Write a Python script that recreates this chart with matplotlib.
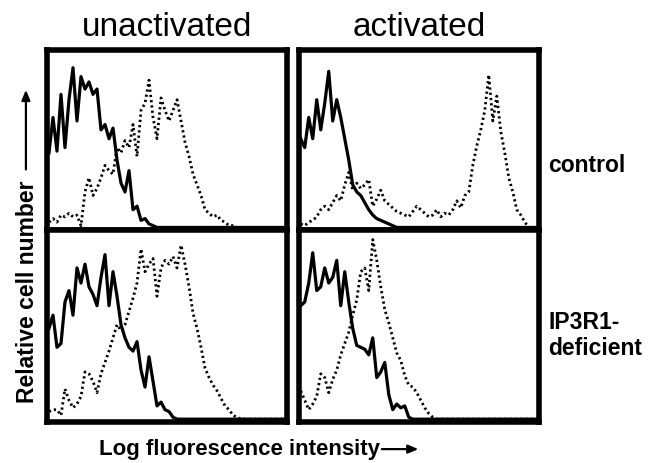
import matplotlib
matplotlib.use("Agg")
import matplotlib.pyplot as plt
import numpy as np

plt.rcParams["font.family"] = ["Liberation Sans", "DejaVu Sans"]

# histogram heights, fraction of panel height, 60 bins across log intensity
n_bins = 60

unact_ctrl_solid = [0.42, 0.62, 0.43, 0.75, 0.45, 0.72, 0.90, 0.60, 0.85, 0.78,
                    0.82, 0.75, 0.78, 0.55, 0.58, 0.50, 0.56, 0.38, 0.25, 0.20,
                    0.32, 0.10, 0.12, 0.04, 0.05, 0.02, 0.01]
unact_ctrl_dot = [0.03, 0.05, 0.03, 0.07, 0.06, 0.08, 0.06, 0.07, 0.01, 0.20,
                  0.28, 0.18, 0.22, 0.28, 0.35, 0.32, 0.30, 0.45, 0.42, 0.49,
                  0.45, 0.58, 0.40, 0.66, 0.70, 0.83, 0.62, 0.50, 0.73, 0.66,
                  0.60, 0.66, 0.72, 0.60, 0.48, 0.40, 0.30, 0.24, 0.18, 0.10,
                  0.08, 0.06, 0.07, 0.04, 0.03, 0.01, 0.01]

act_ctrl_solid = [0.50, 0.45, 0.62, 0.50, 0.72, 0.55, 0.70, 0.88, 0.60, 0.72,
                  0.62, 0.50, 0.38, 0.24, 0.20, 0.18, 0.14, 0.10, 0.07, 0.05,
                  0.04, 0.03, 0.02, 0.01]
act_ctrl_dot = [0.02, 0.01, 0.03, 0.04, 0.06, 0.10, 0.12, 0.10, 0.14, 0.18,
                0.15, 0.24, 0.31, 0.21, 0.25, 0.22, 0.24, 0.27, 0.12, 0.16,
                0.21, 0.15, 0.13, 0.11, 0.09, 0.08, 0.07, 0.06, 0.09, 0.12,
                0.10, 0.08, 0.06, 0.07, 0.10, 0.06, 0.08, 0.07, 0.10, 0.15,
                0.11, 0.18, 0.20, 0.35, 0.46, 0.55, 0.66, 0.86, 0.60, 0.74,
                0.54, 0.42, 0.28, 0.20, 0.10, 0.07, 0.03]

unact_ko_solid = [0.48, 0.55, 0.38, 0.40, 0.62, 0.68, 0.55, 0.80, 0.72, 0.82,
                  0.70, 0.66, 0.60, 0.75, 0.87, 0.60, 0.78, 0.65, 0.50, 0.43,
                  0.38, 0.36, 0.41, 0.26, 0.17, 0.33, 0.20, 0.07, 0.09, 0.05,
                  0.04, 0.01]
unact_ko_dot = [0.04, 0.05, 0.05, 0.02, 0.16, 0.10, 0.06, 0.08, 0.12, 0.25,
                0.24, 0.20, 0.14, 0.24, 0.30, 0.36, 0.43, 0.50, 0.47, 0.50,
                0.57, 0.64, 0.72, 0.90, 0.78, 0.82, 0.85, 0.65, 0.80, 0.84,
                0.82, 0.86, 0.80, 0.92, 0.82, 0.70, 0.56, 0.48, 0.38, 0.27,
                0.22, 0.18, 0.15, 0.11, 0.07, 0.05, 0.02, 0.01]

act_ko_solid = [0.60, 0.62, 0.72, 0.88, 0.68, 0.70, 0.80, 0.72, 0.75, 0.84,
                0.60, 0.78, 0.62, 0.48, 0.39, 0.38, 0.37, 0.34, 0.43, 0.22,
                0.25, 0.30, 0.13, 0.05, 0.08, 0.06, 0.07, 0.01]
act_ko_dot = [0.15, 0.10, 0.05, 0.08, 0.12, 0.24, 0.22, 0.14, 0.21, 0.26,
              0.34, 0.40, 0.46, 0.55, 0.63, 0.78, 0.80, 0.68, 0.95, 0.84,
              0.70, 0.58, 0.51, 0.43, 0.35, 0.31, 0.23, 0.18, 0.17, 0.14,
              0.10, 0.06, 0.03, 0.01]

col_titles = ["unactivated", "activated"]
row_labels = ["control", "IP3R1-\ndeficient"]
panels = [[(unact_ctrl_solid, unact_ctrl_dot), (act_ctrl_solid, act_ctrl_dot)],
          [(unact_ko_solid, unact_ko_dot), (act_ko_solid, act_ko_dot)]]


def _pad(vals):
    return np.array(list(vals) + [0.0] * (n_bins - len(vals)))


fig = plt.figure(figsize=(6.48, 4.63), dpi=100)
x = np.arange(n_bins) + 0.5
lefts = [0.0725, 0.461]
width = 0.3705
bottoms = [0.503, 0.0886]
heights = [0.389, 0.4144]
label_y = [0.36, 0.45]

for r in range(2):
    for c in range(2):
        ax = fig.add_axes([lefts[c], bottoms[r], width, heights[r]])
        solid, dot = panels[r][c]
        ax.plot(x, _pad(dot), color="black", lw=2.0,
                linestyle=(0, (0.8, 1.1)))
        ax.plot(x, _pad(solid), color="black", lw=2.3)
        ax.set_xlim(0, n_bins)
        ax.set_ylim(-0.015, 1.0)
        ax.set_xticks([])
        ax.set_yticks([])
        for sp in ax.spines.values():
            sp.set_linewidth(4)
        if r == 0:
            ax.set_title(col_titles[c], fontsize=24, pad=10)
        if c == 1:
            ax.text(1.04, label_y[r], row_labels[r], transform=ax.transAxes,
                    fontsize=16.5, fontweight="bold", ha="left", va="center",
                    linespacing=1.2)

fig.text(0.042, 0.37, "Relative cell number", rotation=90, fontsize=16.5,
         fontweight="bold", ha="center", va="center")
fig.add_artist(matplotlib.patches.FancyArrowPatch(
    (0.040, 0.628), (0.040, 0.812), transform=fig.transFigure,
    arrowstyle="-|>,head_length=6,head_width=2.5", lw=1.6, color="black"))

fig.text(0.37, 0.030, "Log fluorescence intensity", fontsize=16,
         fontweight="bold", ha="center", va="center")
fig.add_artist(matplotlib.patches.FancyArrowPatch(
    (0.585, 0.030), (0.650, 0.030), transform=fig.transFigure,
    arrowstyle="-|>,head_length=6,head_width=2.5", lw=1.6, color="black"))

fig.savefig("out.png", dpi=100)
